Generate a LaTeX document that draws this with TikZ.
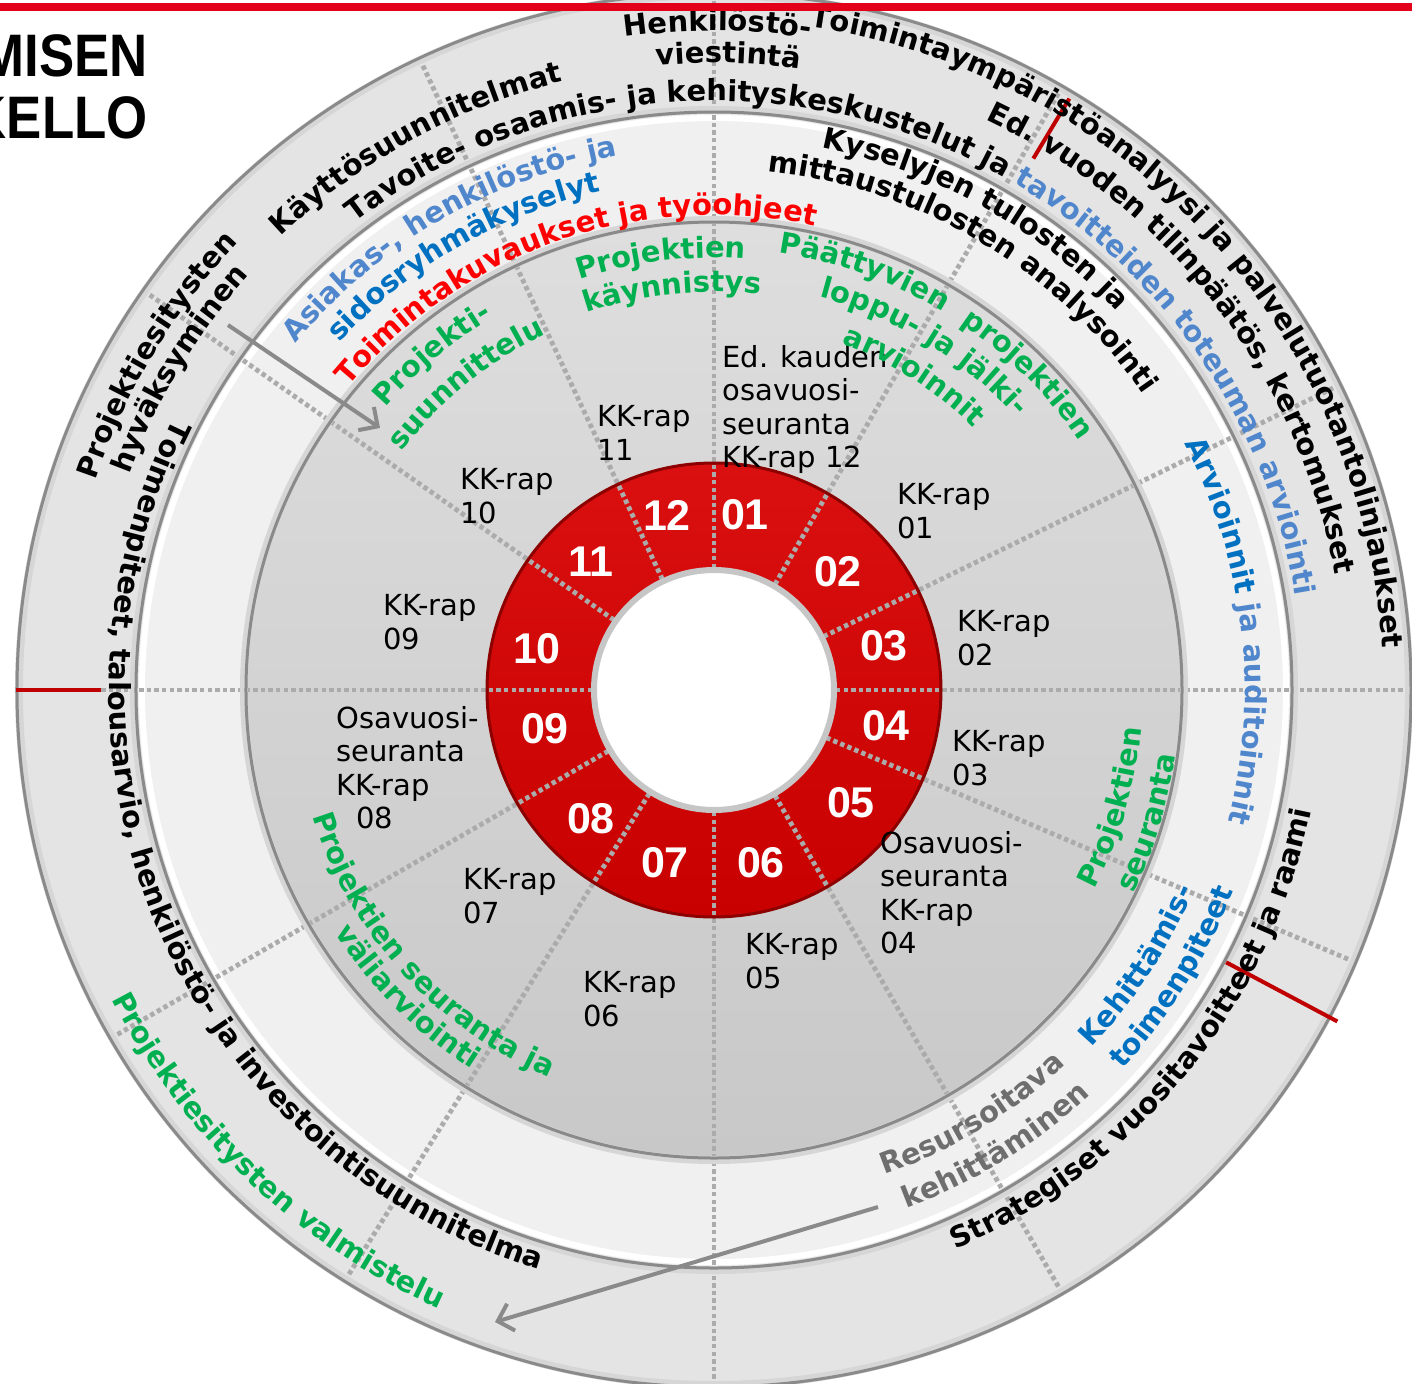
\documentclass[tikz,border=0pt]{standalone}
\usepackage{fontspec}
\setmainfont{DejaVu Sans}
\newfontfamily\arialfont{Liberation Sans}
\usetikzlibrary{arrows.meta,decorations.text,positioning}
\definecolor{kred}{HTML}{C80000}
\definecolor{kredtop}{HTML}{DA1010}
\definecolor{kline}{HTML}{E2001A}
\definecolor{kmark}{HTML}{C00000}
\definecolor{ktxtred}{HTML}{FF0000}
\definecolor{kgreen}{HTML}{00B050}
\definecolor{kblue}{HTML}{0070C0}
\definecolor{ksteel}{HTML}{5086CC}
\definecolor{kgrey}{HTML}{6E6E6E}
\definecolor{outerfill}{HTML}{E4E4E4}
\definecolor{midfill}{HTML}{F0F0F0}
\definecolor{disktop}{HTML}{DEDEDE}
\definecolor{diskbot}{HTML}{C8C8C8}
\definecolor{sepgrey}{HTML}{ABABAB}
\definecolor{edgegrey}{HTML}{8A8A8A}
\newcommand{\kfont}{\fontsize{14.5}{17}\selectfont\bfseries}
% text on a circle, clockwise (letters point outwards)
\newcommand{\cwtext}[4][black]{\path[decorate,decoration={text along path,text align=center,text={|\kfont\color{#1}|#4}}] ({#3+75}:{#2-9}) arc[start angle=#3+75,end angle=#3-75,radius=#2-9];}
% text on a circle, counterclockwise (letters point inwards)
\newcommand{\ccwtext}[4][black]{\path[decorate,decoration={text along path,text align=center,text={|\kfont\color{#1}|#4}}] ({#3-75}:{#2+9}) arc[start angle=#3-75,end angle=#3+75,radius=#2+9];}
\tikzstyle{kkrap} = [anchor=north west, inner sep=0pt, align=left, font=\fontsize{14.5}{16.75}\selectfont]
\tikzstyle{month} = [inner sep=0pt, text=white, font=\arialfont\bfseries\fontsize{21.5}{21.5}\selectfont]
\tikzstyle{bigtitle} = [anchor=base east, inner sep=0pt, font=\arialfont\bfseries\fontsize{30}{30}\selectfont]
\tikzstyle{monthsep} = [draw=sepgrey, line width=2.4pt, dash pattern=on 2.2pt off 1.6pt]
\tikzstyle{redmark} = [draw=kmark, line width=2pt]
\tikzstyle{grayarrow} = [draw=edgegrey, line width=2pt, -{Straight Barb[length=7pt,width=14pt]}]
\tikzstyle{ringedge} = [draw=edgegrey, line width=1.5pt]
\tikzstyle{ringshadow} = [draw=edgegrey!35, line width=4pt]
\begin{document}
\begin{tikzpicture}[x=0.5pt,y=0.5pt]
\useasboundingbox (-714,-693) rectangle (698,690);
\clip (-714,-693) rectangle (698,690);
% rings
\fill[outerfill] (0,0) circle (698);
\fill[midfill] (0,0) circle (578);
\draw[white, line width=3pt] (0,0) circle (572);
\shade[top color=disktop, bottom color=diskbot] (0,0) circle (468);
\shade[top color=kredtop, bottom color=kred] (0,0) circle (227);
\fill[white] (0,0) circle (122);
% month borders
\draw[monthsep] (90:122) -- (90:695);
\draw[monthsep] (60:122) -- (60:695);
\draw[monthsep] (26:122) -- (26:695);
\draw[monthsep] (0:122) -- (0:695);
\draw[monthsep] (-23:122) -- (-23:695);
\draw[monthsep] (-60:122) -- (-60:695);
\draw[monthsep] (-90:122) -- (-90:695);
\draw[monthsep] (-122:122) -- (-122:695);
\draw[monthsep] (-150:122) -- (-150:695);
\draw[monthsep] (180:122) -- (180:695);
\draw[monthsep] (145:122) -- (145:695);
\draw[monthsep] (115:122) -- (115:695);
% edges
\draw[ringshadow] (0,0) circle (695);
\draw[ringedge] (0,0) circle (697);
\draw[ringshadow] (0,0) circle (580);
\draw[ringedge] (0,0) circle (578);
\draw[ringshadow] (0,0) circle (470);
\draw[ringedge] (0,0) circle (468);
\draw[kred!70!black, line width=1.5pt] (0,0) circle (227);
\draw[gray!45, line width=3pt] (0,0) circle (120);
% year marks
\draw[redmark] (180:613) -- (180:698);
\draw[redmark] (59:620) -- (59:690);
\draw[redmark] (-28:580) -- (-28:706);
% months
\node[month] (m12) at (-47,175) {12};
\node[month] (m01) at (31,175) {01};
\node[month] (m02) at (124,118) {02};
\node[month] (m03) at (170,44) {03};
\node[month] (m04) at (172,-36) {04};
\node[month] (m05) at (137,-113) {05};
\node[month] (m06) at (47,-173) {06};
\node[month] (m07) at (-49,-173) {07};
\node[month] (m08) at (-123,-129) {08};
\node[month] (m09) at (-169,-39) {09};
\node[month] (m10) at (-177,41) {10};
\node[month] (m11) at (-123,128) {11};
% reports
\node[kkrap] (rap11) at (-117,285) {KK-rap\\11};
\node[kkrap] (rap12) at (8,345) {Ed. kauden\\osavuosi-\\seuranta\\KK-rap 12};
\node[kkrap] (rap01) at (183,207) {KK-rap\\01};
\node[kkrap] (rap02) at (243,80) {KK-rap\\02};
\node[kkrap] (rap03) at (238,-40) {KK-rap\\03};
\node[kkrap] (rap04) at (166,-141) {Osavuosi-\\seuranta\\KK-rap\\04};
\node[kkrap] (rap05) at (31,-243) {KK-rap\\05};
\node[kkrap] (rap06) at (-131,-281) {KK-rap\\06};
\node[kkrap] (rap07) at (-251,-178) {KK-rap\\07};
\node[kkrap] (rap08) at (-378,-16) {Osavuosi-\\seuranta\\KK-rap\\\hspace*{10pt}08};
\node[kkrap] (rap09) at (-331,96) {KK-rap\\09};
\node[kkrap] (rap10) at (-254,222) {KK-rap\\10};
% texts along the rings
\cwtext{668}{89.7}{Henkilöstö-}
\cwtext{636}{88.7}{viestintä}
\cwtext{679}{42.7}{Toimintaympäristöanalyysi ja palvelutuotantolinjaukset}
\cwtext{641}{37.5}{Ed. vuoden tilinpäätös, kertomukset}
\cwtext{636}{118.8}{Käyttösuunnitelmat}
\cwtext{598}{68.4}{Tavoite- osaamis- ja kehityskeskustelut ja |\kfont\color{ksteel}|tavoitteiden toteuman arviointi}
\cwtext{662}{149}{Projektiesitysten}
\cwtext{632}{149}{hyväksyminen}
\cwtext[ksteel]{552}{120.3}{Asiakas-, henkilöstö- ja}
\cwtext[kblue]{520}{120}{sidosryhmäkyselyt}
\cwtext[ktxtred]{484}{109}{Toimintakuvaukset ja työohjeet}
\cwtext{562}{61}{Kyselyjen tulosten ja}
\cwtext{530}{59.3}{mittaustulosten analysointi}
\cwtext[kblue]{540}{6.6}{Arvioinnit |\kfont\color{ksteel}|ja auditoinnit}
\cwtext[kgreen]{442}{130}{Projekti-}
\cwtext[kgreen]{402}{129}{suunnittelu}
\cwtext[kgreen]{441}{97}{Projektien}
\cwtext[kgreen]{407}{96}{käynnistys}
\cwtext[kgreen]{451}{70.2}{Päättyvien}
\cwtext[kgreen]{451}{45.2}{projektien}
\cwtext[kgreen]{416}{58.5}{loppu- ja jälki-}
\cwtext[kgreen]{378}{57.5}{arvioinnit}
\ccwtext{596}{203.3}{Toimenpiteet, talousarvio, henkilöstö- ja investointisuunnitelma}
\ccwtext[kgreen]{668}{226.6}{Projektiesitysten valmistelu}
\ccwtext{600}{-39}{Strategiset vuositavoitteet ja raami}
\ccwtext[kblue]{511}{-33}{Kehittämis-}
\ccwtext[kblue]{548}{-32}{toimenpiteet}
\ccwtext[kgrey]{505}{-58.7}{Resursoitava}
\ccwtext[kgrey]{544}{-58.3}{kehittäminen}
\ccwtext[kgreen]{420}{-16.4}{Projektien}
\ccwtext[kgreen]{457}{-17}{seuranta}
\ccwtext[kgreen]{412}{222.2}{Projektien seuranta ja}
\ccwtext[kgreen]{441}{225}{väliarviointi}
% arrows
\coordinate (hyvstart) at (-486,365);
\coordinate (hyvend) at (-334,262);
\draw[grayarrow] (hyvstart) -- (hyvend);
\coordinate (resstart) at (164,-517);
\coordinate (resend) at (-219,-632);
\draw[grayarrow] (resstart) -- (resend);
% title
\node[bigtitle] (title1) at (-566,613) {\scalebox{0.88}[1]{MISEN}};
\node[bigtitle] (title2) at (-566,551) {\scalebox{0.88}[1]{KELLO}};
\draw[kline, line width=4pt] (-714,683) -- (698,683);
\end{tikzpicture}
\end{document}
